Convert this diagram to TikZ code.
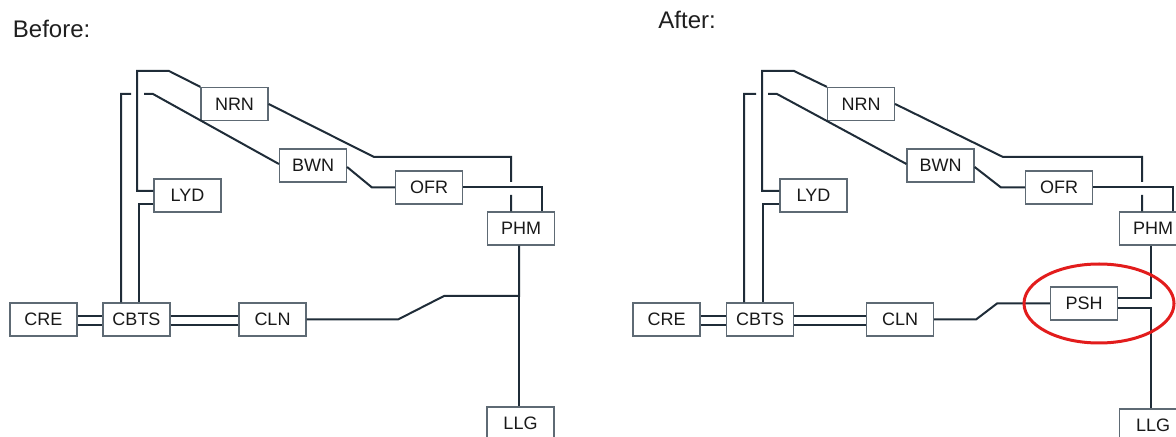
\documentclass[tikz,border=0pt]{standalone}
\usepackage{fontspec}
\setmainfont{Liberation Sans}
\usepackage{xcolor}
\usetikzlibrary{calc}

\definecolor{wireink}{HTML}{1F2C38}
\definecolor{boxline}{HTML}{5E6A74}
\definecolor{ringred}{RGB}{226,28,28}

\begin{document}
\begin{tikzpicture}[
    x=0.5pt, y=-0.5pt,
    font=\fontsize{9}{10}\selectfont,
    box/.style={
        rectangle,
        draw=boxline,
        line width=0.6pt,
        fill=white,
        text=black!90,
        minimum width=33.5pt,
        minimum height=16.5pt,
        inner sep=0pt
    },
    wire/.style={
        draw=wireink,
        line width=1pt
    },
    heading/.style={
        anchor=base west,
        inner sep=0pt,
        text=black!88,
        font=\fontsize{12}{14}\selectfont
    },
    ring/.style={
        draw=ringred,
        line width=1.5pt
    }
]
\useasboundingbox (0,0) rectangle (1176,437);

% =========================================================
% Before
% =========================================================
\node[heading] (before) at (12.5,38) {Before:};

\node[box] (nrn-old) at (234.5,104) {NRN};
\node[box] (lyd-old) at (187.5,195.5) {LYD};
\node[box] (bwn-old) at (313,165.5) {BWN};
\node[box] (ofr-old) at (429,187.5) {OFR};
\node[box] (phm-old) at (521,228.5) {PHM};
\node[box] (cre-old) at (43.5,319.5) {CRE};
\node[box] (cbts-old) at (136.5,319.5) {CBTS};
\node[box] (cln-old) at (272.5,319.5) {CLN};
\node[box] (llg-old) at (520.5,423.5) {LLG};

% upper feeders
\draw[wire] (nrn-old.north west) -- (169,71) -- (137,71) |- ($(lyd-old.west)+(0,-4.5)$);
\draw[wire] ($(lyd-old.west)+(0,8.5)$) -| ($(cbts-old.north)+(2.5,0)$);
\draw[wire] ($(bwn-old.west)+(0,-1.5)$) -- (153,94) -- (144,94)
    (131,94) -| ($(cbts-old.north)+(-15.5,0)$);

\draw[wire] (nrn-old.east) -- (374,157) -| (511,182)
    (511,195) -- ($(phm-old.north)+(-10,0)$);
\draw[wire] ($(bwn-old.east)+(0,1.5)$) -- (372,187.5) -- (ofr-old.west);
\draw[wire] (ofr-old.east) -| ($(phm-old.north)+(21,0)$);

% lower feeders
\draw[wire] ($(phm-old.south)+(-2,0)$) -- ($(llg-old.north)+(-1.5,0)$);
\draw[wire] (cln-old.east) -- (398,319.5) -- (444,296) -| ($(phm-old.south)+(-2,0)$);

\draw[wire] ($(cre-old.east)+(0,-3.5)$) -- ($(cbts-old.west)+(0,-3.5)$)
    ($(cre-old.east)+(0,6)$) -- ($(cbts-old.west)+(0,6)$);
\draw[wire] ($(cbts-old.east)+(0,-3.5)$) -- ($(cln-old.west)+(0,-3.5)$)
    ($(cbts-old.east)+(0,6)$) -- ($(cln-old.west)+(0,6)$);

% =========================================================
% After
% =========================================================
\node[heading] (after) at (658,29) {After:};

\node[box] (nrn-new) at (861,104) {NRN};
\node[box] (lyd-new) at (813.5,195.5) {LYD};
\node[box] (bwn-new) at (940.5,165.5) {BWN};
\node[box] (ofr-new) at (1059,187.5) {OFR};
\node[box] (phm-new) at (1153,228.5) {PHM};
\node[box] (cre-new) at (666.5,319.5) {CRE};
\node[box] (cbts-new) at (760,319.5) {CBTS};
\node[box] (cln-new) at (900,319.5) {CLN};
\node[box] (psh-new) at (1084,303.5) {PSH};
\node[box] (llg-new) at (1153,425.5) {LLG};

% upper feeders
\draw[wire] (nrn-new.north west) -- (794,71) -- (762,71) |- ($(lyd-new.west)+(0,-4.5)$);
\draw[wire] ($(lyd-new.west)+(0,8.5)$) -| ($(cbts-new.north)+(3,0)$);
\draw[wire] ($(bwn-new.west)+(0,-1.5)$) -- (777,94) -- (768,94)
    (756,94) -| ($(cbts-new.north)+(-16,0)$);

\draw[wire] (nrn-new.east) -- (1003,157) -| (1142,182)
    (1142,195) -- ($(phm-new.north)+(-11,0)$);
\draw[wire] ($(bwn-new.east)+(0,1.5)$) -- (1001,187.5) -- (ofr-new.west);
\draw[wire] (ofr-new.east) -| ($(phm-new.north)+(20,0)$);

% lower feeders through PSH
\draw[wire] ($(phm-new.south)+(-2,0)$) |- ($(psh-new.east)+(0,-5.5)$);
\draw[wire] ($(psh-new.east)+(0,4.5)$) -| ($(llg-new.north)+(-2,0)$);
\draw[wire] (cln-new.east) -- (976,319.5) -- (997,303.5) -- (psh-new.west);

\draw[wire] ($(cre-new.east)+(0,-3.5)$) -- ($(cbts-new.west)+(0,-3.5)$)
    ($(cre-new.east)+(0,6)$) -- ($(cbts-new.west)+(0,6)$);
\draw[wire] ($(cbts-new.east)+(0,-3.5)$) -- ($(cln-new.west)+(0,-3.5)$)
    ($(cbts-new.east)+(0,6)$) -- ($(cln-new.west)+(0,6)$);

% highlight
\draw[ring] ($(psh-new)+(15,0)$) ellipse [x radius=75, y radius=39.5];

\end{tikzpicture}
\end{document}
